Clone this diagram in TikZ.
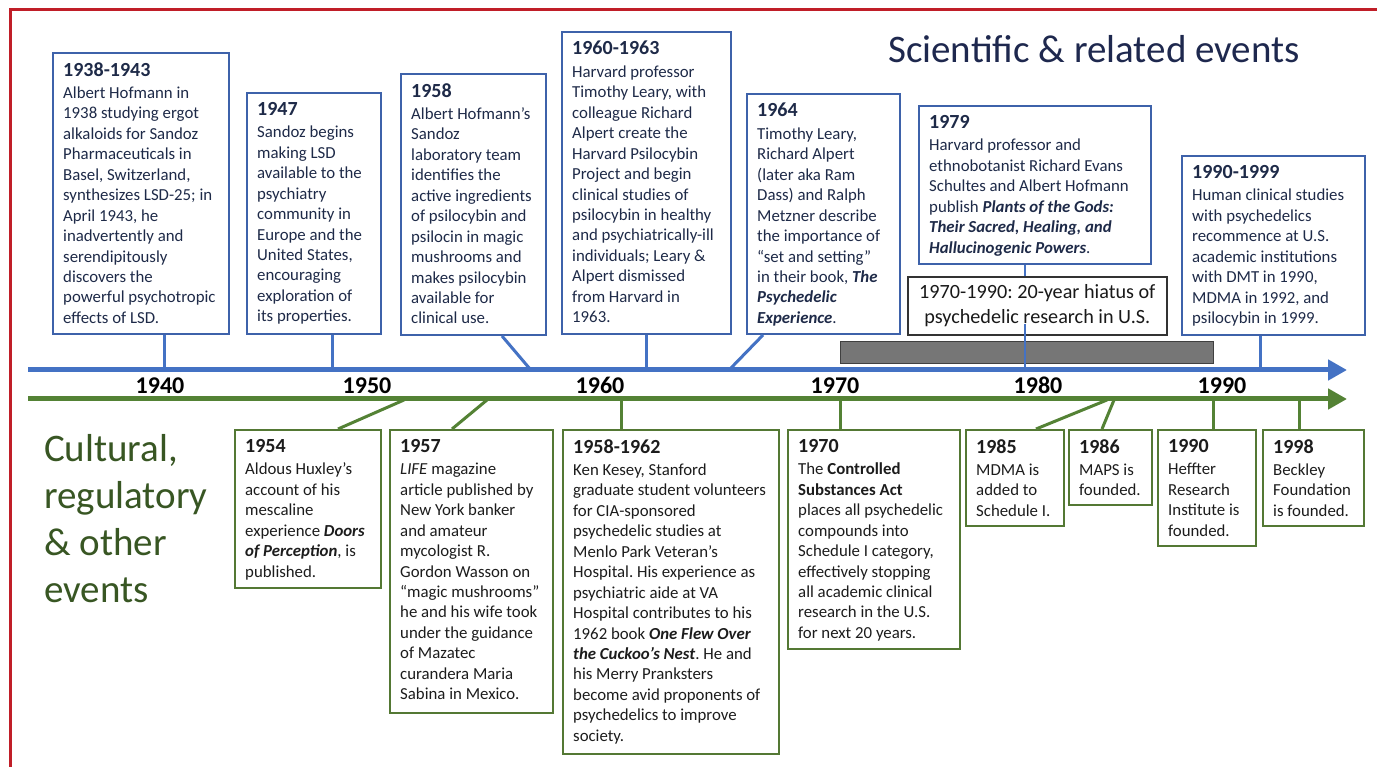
\documentclass[tikz,border=0pt]{standalone}
\usepackage{fontspec}
\setmainfont{Carlito}
\usetikzlibrary{arrows.meta,calc}
\frenchspacing
\definecolor{sline}{RGB}{68,114,196}
\definecolor{sbord}{RGB}{62,98,170}
\definecolor{stxt}{RGB}{30,42,72}
\definecolor{gline}{RGB}{84,130,53}
\definecolor{gbord}{RGB}{84,120,52}
\definecolor{gtxt}{RGB}{28,28,28}
\definecolor{ctitle}{RGB}{56,86,35}
\definecolor{stitle}{RGB}{30,40,78}
\definecolor{frame}{RGB}{192,30,40}
\definecolor{barfill}{RGB}{118,118,118}
\newcommand\ttl{\fontsize{20}{20}\selectfont\bfseries}
\newcommand\bix[1]{\textbf{\textit{#1}}}
\newcommand\evbox[8]{%
  \node[#2, minimum width={#6-#4}, minimum height={#7-#5}] (#1) at (#4,#5) {};
  \node[#3] (#1t) at ($(#1.north west)+(11,10)$) {#8};
}
\begin{document}
\frenchspacing
\begin{tikzpicture}[x=1pt,y=-1pt,
  sbox/.style={draw=sbord, line width=2pt, anchor=north west, inner sep=0, fill=white},
  gbox/.style={draw=gbord, line width=2pt, anchor=north west, inner sep=0, fill=white},
  stext/.style={anchor=north west, align=left, inner sep=0, text=stxt, font=\fontsize{16.8}{20.45}\selectfont\frenchspacing},
  gtext/.style={anchor=north west, align=left, inner sep=0, text=gtxt, font=\fontsize{16.8}{20.45}\selectfont\frenchspacing},
  sconn/.style={draw=sline, line width=3pt},
  gconn/.style={draw=gline, line width=3pt},
  saxis/.style={draw=sline, line width=5pt, -{Triangle[length=19pt,width=20pt]}},
  gaxis/.style={draw=gline, line width=5pt, -{Triangle[length=19pt,width=20pt]}},
  year/.style={font=\fontsize{24}{24}\selectfont\bfseries, text=black, inner sep=0, anchor=base},
  bigtitle/.style={font=\fontsize{39}{47}\selectfont, inner sep=0, align=left}
]
\useasboundingbox (0,0) rectangle (1377,767);
\fill[white] (0,0) rectangle (1377,767);
\draw[frame, line width=3pt] (10,767) -- (10,10) -- (1377,10);

% titles
\node[bigtitle, text=stitle, anchor=base west] (stitle) at (888,63) {Scientific \& related events};
\node[bigtitle, text=ctitle, anchor=north west] (ctitle) at (44,434) {Cultural,\\regulatory\\\& other\\events};

% axis coordinates
\coordinate (sa0) at (28,370);
\coordinate (sa1) at (1347,370);
\coordinate (ga0) at (28,399);
\coordinate (ga1) at (1347,399);

% hiatus bar and box
\node[draw=black!75, line width=1.2pt, fill=barfill, anchor=north west, minimum width=373, minimum height=22, inner sep=0] (bar) at (840,341) {};
\node[draw=black!80, line width=1.6pt, anchor=north west, minimum width=259, minimum height=58, inner sep=0] (hiatus) at (907,276) {};

% scientific boxes
\evbox{b1}{sbox}{stext}{52}{52}{228}{333}{{\ttl 1938-1943}\\[2pt]Albert Hofmann in\\1938 studying ergot\\alkaloids for Sandoz\\Pharmaceuticals in\\Basel, Switzerland,\\synthesizes LSD-25; in\\April 1943, he\\inadvertently and\\serendipitously\\discovers the\\powerful psychotropic\\effects of LSD.}
\evbox{b2}{sbox}{stext}{246}{92}{380}{333}{{\ttl 1947}\\[2pt]Sandoz begins\\making LSD\\available to the\\psychiatry\\community in\\Europe and the\\United States,\\encouraging\\exploration of\\its properties.}
\evbox{b3}{sbox}{stext}{400}{73}{545}{334}{{\ttl 1958}\\[2pt]Albert Hofmann’s\\Sandoz\\laboratory team\\identifies the\\active ingredients\\of psilocybin and\\psilocin in magic\\mushrooms and\\makes psilocybin\\available for\\clinical use.}
\evbox{b4}{sbox}{stext}{561}{31}{730}{333}{{\ttl 1960-1963}\\[2pt]Harvard professor\\Timothy Leary, with\\colleague Richard\\Alpert create the\\Harvard Psilocybin\\Project and begin\\clinical studies of\\psilocybin in healthy\\and psychiatrically-ill\\individuals; Leary \&\\Alpert dismissed\\from Harvard in\\1963.}
\evbox{b5}{sbox}{stext}{746}{93}{899}{333}{{\ttl 1964}\\[2pt]Timothy Leary,\\Richard Alpert\\(later aka Ram\\Dass) and Ralph\\Metzner describe\\the importance of\\“set and setting”\\in their book, \bix{The}\\\bix{Psychedelic}\\\bix{Experience}.}
\evbox{b6}{sbox}{stext}{918}{105}{1150}{263}{{\ttl 1979}\\[2pt]Harvard professor and\\ethnobotanist Richard Evans\\Schultes and Albert Hofmann\\publish \bix{Plants of the Gods:}\\\bix{Their Sacred, Healing, and}\\\bix{Hallucinogenic Powers}.}
\evbox{b7}{sbox}{stext}{1181}{155}{1364}{334}{{\ttl 1990-1999}\\[2pt]Human clinical studies\\with psychedelics\\recommence at U.S.\\academic institutions\\with DMT in 1990,\\MDMA in 1992, and\\psilocybin in 1999.}

% cultural boxes
\evbox{g1}{gbox}{gtext}{234}{429}{380}{587}{{\ttl 1954}\\[2pt]Aldous Huxley’s\\account of his\\mescaline\\experience \bix{Doors}\\\bix{of Perception}, is\\published.}
\evbox{g2}{gbox}{gtext}{389}{429}{552}{712}{{\ttl 1957}\\[2pt]\textit{LIFE} magazine\\article published by\\New York banker\\and amateur\\mycologist R.\\Gordon Wasson on\\“magic mushrooms”\\he and his wife took\\under the guidance\\of Mazatec\\curandera Maria\\Sabina in Mexico.}
\evbox{g3}{gbox}{gtext}{562}{429}{778}{753}{{\ttl 1958-1962}\\[2pt]Ken Kesey, Stanford\\graduate student volunteers\\for CIA-sponsored\\psychedelic studies at\\Menlo Park Veteran’s\\Hospital. His experience as\\psychiatric aide at VA\\Hospital contributes to his\\1962 book \bix{One Flew Over}\\\bix{the Cuckoo’s Nest}. He and\\his Merry Pranksters\\become avid proponents of\\psychedelics to improve\\society.}
\evbox{g4}{gbox}{gtext}{787}{429}{959}{648}{{\ttl 1970}\\[2pt]The \textbf{Controlled}\\\textbf{Substances Act}\\places all psychedelic\\compounds into\\Schedule I category,\\effectively stopping\\all academic clinical\\research in the U.S.\\for next 20 years.}
\evbox{g5}{gbox}{gtext}{965}{429}{1063}{525}{{\ttl 1985}\\[2pt]MDMA is\\added to\\Schedule I.}
\evbox{g6}{gbox}{gtext}{1068}{429}{1151}{504}{{\ttl 1986}\\[2pt]MAPS is\\founded.}
\evbox{g7}{gbox}{gtext}{1157}{429}{1255}{545}{{\ttl 1990}\\[2pt]Heffter\\Research\\Institute is\\founded.}
\evbox{g8}{gbox}{gtext}{1262}{429}{1363}{525}{{\ttl 1998}\\[2pt]Beckley\\Foundation\\is founded.}

% connector end points on the axes
\coordinate (s1) at (164,369);
\coordinate (s2) at (332,369);
\coordinate (s3) at (530,369);
\coordinate (s4) at (646,369);
\coordinate (s5) at (730,369);
\coordinate (s6) at (1025,369);
\coordinate (s7) at (1260,369);
\coordinate (c1) at (404,400);
\coordinate (c2) at (487,400);
\coordinate (c3) at (621,400);
\coordinate (c4) at (840,400);
\coordinate (c5) at (1107,400);
\coordinate (c6) at (1114,400);
\coordinate (c7) at (1213,400);
\coordinate (c8) at (1299,400);

% scientific connectors
\draw[sconn] (b1.south -| s1) -- (s1);
\draw[sconn] (b2.south -| s2) -- (s2);
\draw[sconn] (b3.south -| 502,0) -- (s3);
\draw[sconn] (b4.south -| s4) -- (s4);
\draw[sconn] (b5.south -| 763,0) -- (s5);
\draw[sconn, line width=2pt] (b6.south -| s6) -- (hiatus.north -| s6);
\draw[sconn, line width=2pt] ($(hiatus.south -| s6)+(0,-12)$) -- (s6);
\draw[sconn] (b7.south -| s7) -- (s7);

% cultural connectors
\draw[gconn] (g1.north -| 338,0) -- (c1);
\draw[gconn] (g2.north -| 452,0) -- (c2);
\draw[gconn] (g3.north -| c3) -- (c3);
\draw[gconn] (g4.north -| c4) -- (c4);
\draw[gconn] (g5.north -| 1036,0) -- (c5);
\draw[gconn] (g6.north -| 1102,0) -- (c6);
\draw[gconn] (g7.north -| c7) -- (c7);
\draw[gconn] (g8.north -| c8) -- (c8);

% hiatus text
\node[font=\fontsize{20.2}{25}\selectfont\frenchspacing, text=black!90, align=center, inner sep=1pt] (hiatust) at (hiatus.center) {1970-1990: 20-year hiatus of\\psychedelic research in U.S.};

% axes
\draw[saxis] (sa0) -- (sa1);
\draw[gaxis] (ga0) -- (ga1);

% years
\node[year] (y1940) at (160,394) {1940};
\node[year] (y1950) at (367,394) {1950};
\node[year] (y1960) at (600,394) {1960};
\node[year] (y1970) at (835,394) {1970};
\node[year] (y1980) at (1038,394) {1980};
\node[year] (y1990) at (1222,394) {1990};
\end{tikzpicture}
\end{document}
